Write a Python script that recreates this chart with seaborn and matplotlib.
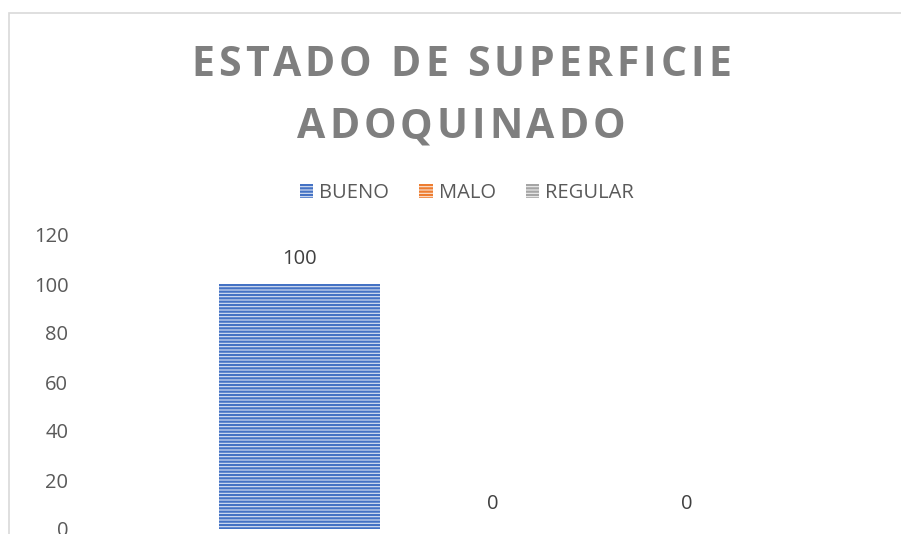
import matplotlib
matplotlib.use("Agg")
import matplotlib.pyplot as plt
import seaborn as sns
import pandas as pd
from matplotlib.patches import Patch, Rectangle

categorias = ["BUENO", "MALO", "REGULAR"]
valores = [100, 0, 0]
colores = ["#4472C4", "#ED7D31", "#A5A5A5"]
claros = ["#DAE3F3", "#FBE5D6", "#EDEDED"]
y_ticks = [0, 20, 40, 60, 80, 100, 120]
titulo = ["ESTADO DE SUPERFICIE", "ADOQUINADO"]

sns.set_theme(style="white")
plt.rcParams["font.family"] = ["Open Sans", "DejaVu Sans"]
plt.rcParams["hatch.linewidth"] = 1.6

df = pd.DataFrame({"grupo": ["x"] * len(categorias), "estado": categorias, "valor": valores})

W, H = 901, 534
fig = plt.figure(figsize=(W / 100, H / 100), dpi=100)
ax = fig.add_axes([94 / W, 5 / H, 798 / W, 294 / H])

sns.barplot(data=df, x="grupo", y="valor", hue="estado", hue_order=categorias,
            palette=colores, width=0.727, gap=0.17, ax=ax, legend=False)

for cont, col, cl in zip(ax.containers, colores, claros):
    for bar in cont:
        bar.set_facecolor(cl)
        bar.set_edgecolor(col)
        bar.set_linewidth(0)
        bar.set_hatch("-----")
    ax.bar_label(cont, labels=[f"{v:g}" for v in cont.datavalues], padding=11,
                 fontsize=14.5, color="#404040")

ax.set_xlim(-0.5, 0.5)
ax.set_ylim(0, 120)
ax.set_yticks(y_ticks)
ax.tick_params(axis="y", length=0, labelsize=14.5, labelcolor="#595959", pad=18.5)
ax.set_xticks([])
ax.set_xlabel("")
ax.set_ylabel("")
sns.despine(ax=ax, left=True, bottom=True)

handles = [Patch(facecolor=cl, edgecolor=col, linewidth=0, hatch="-----", label=c)
           for c, col, cl in zip(categorias, colores, claros)]
fig.legend(handles=handles, loc="center", bbox_to_anchor=(467 / W, 1 - 193 / H),
           ncol=3, frameon=False, fontsize=14.5, handlelength=0.65, handleheight=0.65,
           handletextpad=0.3, columnspacing=1.5, labelcolor="#595959")

# titulo con espaciado entre letras, caracter por caracter
renderer = fig.canvas.get_renderer()
espacio = 4.0
for i, linea in enumerate(titulo):
    y = 1 - (66 + 62 * i) / H
    anchos = []
    for ch in linea:
        t = fig.text(0, 0, ch if ch != " " else "a", fontsize=29.5, fontweight="bold")
        w = t.get_window_extent(renderer).width
        if ch == " ":
            w = w * 0.45
        anchos.append(w)
        t.remove()
    total = sum(anchos) + espacio * (len(linea) - 1)
    x = 461 - total / 2
    for ch, w in zip(linea, anchos):
        if ch != " ":
            fig.text(x / W, y, ch, ha="left", va="center", fontsize=29.5,
                     fontweight="bold", color="#7F7F7F")
        x += w + espacio

fig.patches.append(Rectangle((9 / W, -0.1), 1.2, 1 - 13 / H + 0.1, transform=fig.transFigure,
                             fill=False, edgecolor="#D9D9D9", linewidth=1.2))

fig.savefig("out.png", dpi=100, facecolor="white")
